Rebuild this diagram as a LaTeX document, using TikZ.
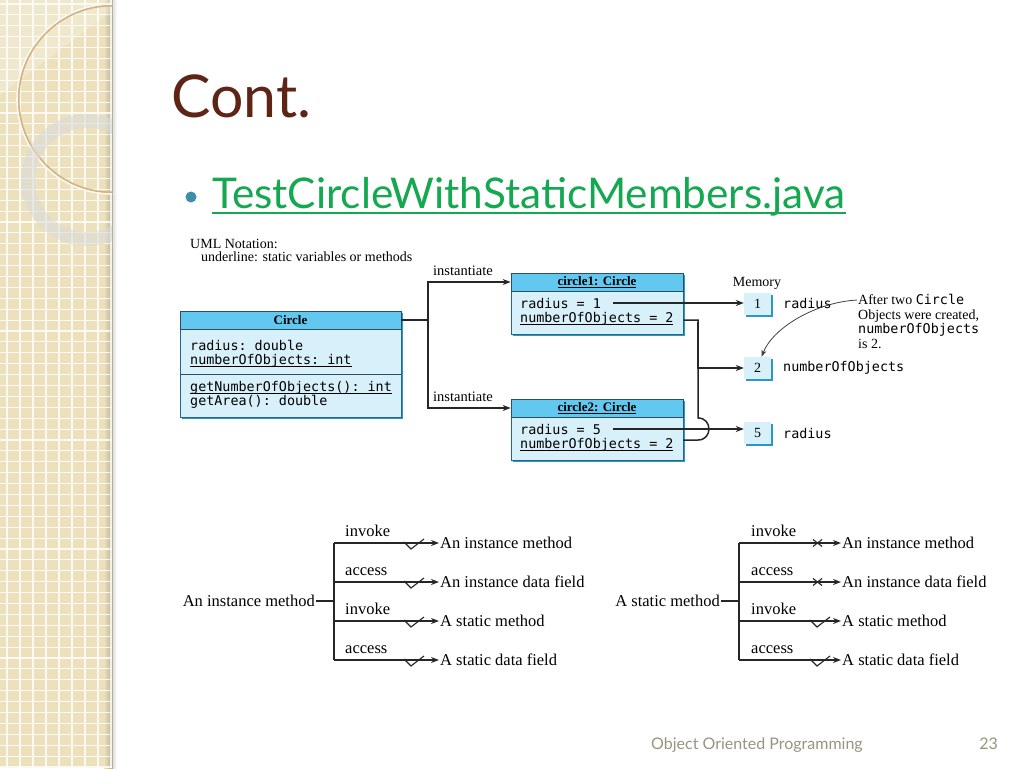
\documentclass[tikz,border=0pt]{standalone}
\usepackage{fontspec}
\setmainfont{Liberation Serif}
\setmonofont{DejaVu Sans Mono}
\newfontfamily\slidefont{Lato}
\usepackage{tikz}
\usetikzlibrary{arrows.meta,shadows}
\definecolor{stripTan}{RGB}{236,225,188}
\definecolor{titleBrown}{RGB}{94,36,22}
\definecolor{linkGreen}{RGB}{20,168,80}
\definecolor{bulletBlue}{RGB}{62,142,170}
\definecolor{footGris}{RGB}{150,150,128}
\definecolor{headAzul}{RGB}{98,200,240}
\definecolor{bodyAzul}{RGB}{216,240,250}
\definecolor{edgeAzul}{RGB}{45,150,200}
\definecolor{headLine}{RGB}{40,80,100}
\newcommand{\statline}[1]{\leavevmode\setbox0=\hbox{#1}\rlap{\rule[-2.5pt]{\wd0}{0.9pt}}\box0}
\newcommand{\cod}[1]{{\fontsize{13.4}{14.5}\selectfont\ttfamily #1}}

\begin{document}
\begin{tikzpicture}[x=1pt, y=-1pt,
  conn/.style={line width=1.5pt, black!85},
  arr/.style={conn, -{Stealth[length=8pt, width=6pt]}},
  tick/.style={line width=1.1pt, black!85},
  lbl/.style={font=\fontsize{16.5}{18}\selectfont, inner sep=1pt},
  small/.style={font=\fontsize{14.5}{12}\selectfont, inner sep=1pt},
  code/.style={font=\fontsize{13.4}{14}\selectfont\ttfamily, inner sep=0pt, align=left},
  headbox/.style={draw=headLine, line width=0.7pt, fill=headAzul, minimum height=18pt,
    inner sep=0pt, font=\fontsize{13}{14}\selectfont\bfseries},
  membox/.style={fill=bodyAzul, minimum width=27pt, minimum height=22pt, inner sep=0pt,
    font=\fontsize{14}{14}\selectfont,
    general shadow={fill=edgeAzul, shadow xshift=1.8pt, shadow yshift=-1.8pt}}]
  \fill[white] (0,0) rectangle (1024,768);
  \useasboundingbox (0,0) rectangle (1024,768);
  % slide strip
  \fill[stripTan] (0,0) rectangle (113,768);
  \shade[left color=stripTan, right color=stripTan!75!black] (104,0) rectangle (113,768);
  \shade[left color=black!12, right color=white] (113,0) rectangle (117,768);
  \foreach \gx in {7,20,...,111}
    \draw[white, line width=1.1pt, opacity=0.8] (\gx,0) -- (\gx,768);
  \foreach \gy in {4,14.9,...,768}
    \draw[white, line width=1.1pt, opacity=0.8] (0,\gy) -- (112,\gy);
  \begin{scope}
    \clip (0,0) rectangle (112,768);
    \fill[white, opacity=0.25] (0,0) -- (113,0) -- (113,10) -- (0,95) -- cycle;
    \draw[line width=3pt, stripTan!50!brown] (112,99) circle [radius=94];
    \draw[line width=1.6pt, white!85!stripTan] (112,99) circle [radius=95];
    \draw[line width=14pt, black!14, opacity=0.6] (87,180) circle [radius=59];
  \end{scope}
  % title
  \node[anchor=base west, inner sep=0pt, font=\slidefont\fontsize{59}{62}\selectfont,
    text=titleBrown] (title) at (171,117) {Cont.};
  \node[circle, fill=bulletBlue, minimum size=11pt, inner sep=0pt] (bullet) at (191,197) {};
  \node[anchor=base west, inner sep=0pt, font=\slidefont\fontsize{42.3}{46}\selectfont,
    text=linkGreen] (subtitle) at (212,208) {TestCircleWithStaticMembers.java};
  \draw[linkGreen, line width=2pt] ([yshift=-5pt]subtitle.base west)
    -- ([yshift=-5pt]subtitle.base east);
  % UML note
  \node[small, font=\fontsize{14}{12.5}\selectfont, anchor=base west, align=left] (umlnote)
    at (189,261) {UML Notation:\\\hspace*{11pt}underline: static variables or methods};
  % Circle class
  \fill[edgeAzul] (182,313) rectangle (403,419);
  \filldraw[draw=edgeAzul!70!black, line width=0.6pt, fill=bodyAzul] (180,311) rectangle (401,417);
  \node[headbox, minimum width=221pt] (circlehead) at (290.5,320) {Circle};
  \draw[headLine, line width=0.8pt] (180,374) -- (401,374);
  \node[code, anchor=base west] (circleattr) at (190,364)
    {radius: double\\\statline{numberOfObjects: int}};
  \node[code, anchor=base west] (circleops) at (190,405)
    {\statline{getNumberOfObjects(): int}\\getArea(): double};
  % circle1 object
  \fill[edgeAzul] (513,275) rectangle (685,336);
  \filldraw[draw=edgeAzul!70!black, line width=0.6pt, fill=bodyAzul] (511,273) rectangle (683,334);
  \node[headbox, minimum width=172pt] (c1head) at (597,282) {\statline{circle1: Circle}};
  \node[code, anchor=base west] (c1r) at (520,308) {radius = 1};
  \node[code, anchor=base west] (c1n) at (520,322) {\statline{numberOfObjects = 2}};
  % circle2 object
  \fill[edgeAzul] (513,401) rectangle (685,462);
  \filldraw[draw=edgeAzul!70!black, line width=0.6pt, fill=bodyAzul] (511,399) rectangle (683,460);
  \node[headbox, minimum width=172pt] (c2head) at (597,408) {\statline{circle2: Circle}};
  \node[code, anchor=base west] (c2r) at (520,434) {radius = 5};
  \node[code, anchor=base west] (c2n) at (520,448) {\statline{numberOfObjects = 2}};
  % instantiate
  \coordinate (fork) at (428,320);
  \draw[conn] (circlehead.east) -- (fork);
  \draw[conn, {Stealth[length=8pt, width=6pt]}-{Stealth[length=8pt, width=6pt]}]
    (c1head.west) -| (fork) |- (c2head.west);
  \node[small, anchor=base west] (inst1) at (432,275) {instantiate};
  \node[small, anchor=base west] (inst2) at (432,401) {instantiate};
  % memory
  \node[small, font=\fontsize{14}{14}\selectfont] (memlabel) at (757,283) {Memory};
  \node[membox] (mem1) at (757.5,304) {1};
  \node[membox] (mem2) at (757.5,368) {2};
  \node[membox] (mem5) at (757.5,433) {5};
  \node[code, anchor=west] (mem1txt) at (783,304) {radius};
  \node[code, anchor=west] (mem2txt) at (783,368) {numberOfObjects};
  \node[code, anchor=west] (mem5txt) at (783,433) {radius};
  \draw[arr] ([xshift=12pt]c1r.east) -- (c1r.east -| mem1.west);
  \draw[arr] ([xshift=12pt]c2r.east) -- (c2r.east -| mem5.west);
  \coordinate (bus) at (698,368);
  \draw[conn] ([yshift=2pt]c1head.east |- c1n.base) -| ([yshift=11pt]bus |- c2r)
    to[out=0, in=0, looseness=1.7] ([yshift=-11pt]bus |- c2r) -- +(-15,0);
  \draw[arr] (bus |- c1n.base) -- (bus) -- (mem2.west);
  % note
  \node[anchor=base west, align=left, inner sep=1pt, font=\fontsize{14}{14.5}\selectfont]
    (note) at (857,348)
    {After two \cod{Circle}\\Objects were created,\\\cod{numberOfObjects}\\is 2.};
  \draw[line width=0.8pt, black!75, -{Stealth[length=7pt, width=5pt]}]
    ([yshift=-7pt]note.north west) .. controls +(-40,2) and +(12,-30) .. ([xshift=4pt]mem2.north);
  % instance method
  \node[lbl, anchor=east] (imsrc) at (316,601) {An instance method};
  \coordinate (itrunk) at (334,601);
  \node[lbl, anchor=west] (it1) at (439,543) {An instance method};
  \node[lbl, anchor=west] (it2) at (439,582) {An instance data field};
  \node[lbl, anchor=west] (it3) at (439,621) {A static method};
  \node[lbl, anchor=west] (it4) at (439,660) {A static data field};
  \draw[conn] (imsrc.east) -- (itrunk);
  \draw[conn] (itrunk |- it1) -- (itrunk |- it4);
  \draw[arr] (itrunk |- it1) -- (it1.west);
  \draw[arr] (itrunk |- it2) -- (it2.west);
  \draw[arr] (itrunk |- it3) -- (it3.west);
  \draw[arr] (itrunk |- it4) -- (it4.west);
  \node[lbl, anchor=base west] (iinv1) at (344,536) {invoke};
  \node[lbl, anchor=base west] (iacc1) at (344,575) {access};
  \node[lbl, anchor=base west] (iinv2) at (344,614) {invoke};
  \node[lbl, anchor=base west] (iacc2) at (344,653) {access};
  \draw[tick] ([xshift=-35pt]it1.west) ++(0,-1) -- ++(7,7) -- ++(13,-10);
  \draw[tick] ([xshift=-35pt]it2.west) ++(0,-1) -- ++(7,7) -- ++(13,-10);
  \draw[tick] ([xshift=-35pt]it3.west) ++(0,-1) -- ++(7,7) -- ++(13,-10);
  \draw[tick] ([xshift=-35pt]it4.west) ++(0,-1) -- ++(7,7) -- ++(13,-10);
  % static method
  \node[lbl, anchor=east] (smsrc) at (721,601) {A static method};
  \coordinate (strunk) at (739,601);
  \node[lbl, anchor=west] (st1) at (841,543) {An instance method};
  \node[lbl, anchor=west] (st2) at (841,582) {An instance data field};
  \node[lbl, anchor=west] (st3) at (841,621) {A static method};
  \node[lbl, anchor=west] (st4) at (841,660) {A static data field};
  \draw[conn] (smsrc.east) -- (strunk);
  \draw[conn] (strunk |- st1) -- (strunk |- st4);
  \draw[arr] (strunk |- st1) -- (st1.west);
  \draw[arr] (strunk |- st2) -- (st2.west);
  \draw[arr] (strunk |- st3) -- (st3.west);
  \draw[arr] (strunk |- st4) -- (st4.west);
  \node[lbl, anchor=base west] (sinv1) at (750,536) {invoke};
  \node[lbl, anchor=base west] (sacc1) at (750,575) {access};
  \node[lbl, anchor=base west] (sinv2) at (750,614) {invoke};
  \node[lbl, anchor=base west] (sacc2) at (750,653) {access};
  \draw[tick] ([xshift=-28pt]st1.west) ++(0,-3.5) -- ++(9,7) ++(0,-7) -- ++(-9,7);
  \draw[tick] ([xshift=-28pt]st2.west) ++(0,-3.5) -- ++(9,7) ++(0,-7) -- ++(-9,7);
  \draw[tick] ([xshift=-31pt]st3.west) ++(0,-1) -- ++(7,7) -- ++(13,-10);
  \draw[tick] ([xshift=-31pt]st4.west) ++(0,-1) -- ++(7,7) -- ++(13,-10);
  % footer
  \node[anchor=base west, inner sep=0pt, font=\slidefont\fontsize{16}{17}\selectfont,
    text=footGris] (footer) at (651,749) {Object Oriented Programming};
  \node[anchor=base east, inner sep=0pt, font=\slidefont\fontsize{16}{17}\selectfont,
    text=footGris] (pagenum) at (998,749) {23};
\end{tikzpicture}
\end{document}
